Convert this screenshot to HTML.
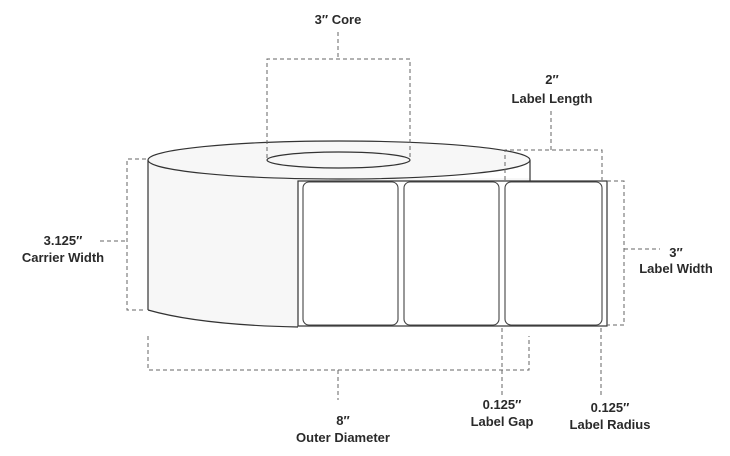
<!DOCTYPE html>
<html><head><meta charset="utf-8"><style>
html,body{margin:0;padding:0;background:#fff;}
svg{display:block;}
text{font-family:"Liberation Sans Narrow","Liberation Sans",sans-serif;font-weight:bold;font-size:13px;fill:#2a2a2a;text-anchor:middle;}
.d{stroke:#666;stroke-width:1;stroke-dasharray:4,3;fill:none;}
</style></head><body>
<svg width="730" height="456" viewBox="0 0 730 456">
<!-- roll side -->
<path d="M148,160 L148,310 C190,322 260,327 340,328 L340,160 Z" fill="#f7f7f7"/>
<path d="M148,310 C190,322 250,326 298,327" stroke="#333" stroke-width="1.2" fill="none"/>
<line x1="148" y1="160" x2="148" y2="310" stroke="#333" stroke-width="1.2"/>
<rect x="298" y="178" width="232" height="4" fill="#f7f7f7"/>
<!-- top ellipse -->
<ellipse cx="339" cy="160" rx="191" ry="19" fill="#f7f7f7" stroke="#333" stroke-width="1.2"/>
<line x1="530" y1="160" x2="530" y2="181" stroke="#333" stroke-width="1.2"/>
<ellipse cx="338.5" cy="160" rx="71.5" ry="8" fill="#f7f7f7" stroke="#333" stroke-width="1.2"/>
<!-- label strip -->
<rect x="298" y="181" width="309" height="145" fill="#fff" stroke="#333" stroke-width="1.2"/>
<rect x="303" y="182" width="95" height="143" rx="6" fill="#fff" stroke="#444" stroke-width="1.1"/>
<rect x="404" y="182" width="95" height="143" rx="6" fill="#fff" stroke="#444" stroke-width="1.1"/>
<rect x="505" y="182" width="97" height="143" rx="6" fill="#fff" stroke="#444" stroke-width="1.1"/>
<!-- core dims -->
<path class="d" d="M267,158 L267,59 L410,59 L410,158"/>
<line class="d" x1="338" y1="32" x2="338" y2="59"/>
<text x="338" y="24">3″ Core</text>
<!-- label length -->
<text x="552" y="84">2″</text>
<text x="552" y="103">Label Length</text>
<line class="d" x1="551" y1="111" x2="551" y2="150"/>
<path class="d" d="M505,180 L505,150 L602,150 L602,180"/>
<!-- label width -->
<path class="d" d="M607,181 L624,181 L624,325 L607,325"/>
<line class="d" x1="624" y1="249" x2="660" y2="249"/>
<text x="676" y="257">3″</text>
<text x="676" y="273">Label Width</text>
<!-- carrier width -->
<path class="d" d="M146,159 L127,159 L127,310 L146,310"/>
<line class="d" x1="100" y1="241" x2="127" y2="241"/>
<text x="63" y="245">3.125″</text>
<text x="63" y="262">Carrier Width</text>
<!-- outer diameter -->
<path class="d" d="M148,336 L148,370 L529,370 L529,336"/>
<line class="d" x1="338" y1="370" x2="338" y2="400"/>
<text x="343" y="425">8″</text>
<text x="343" y="442">Outer Diameter</text>
<!-- label gap -->
<line class="d" x1="502" y1="328" x2="502" y2="395"/>
<text x="502" y="409">0.125″</text>
<text x="502" y="426">Label Gap</text>
<!-- label radius -->
<line class="d" x1="601" y1="328" x2="601" y2="398"/>
<text x="610" y="412">0.125″</text>
<text x="610" y="429">Label Radius</text>
</svg>
</body></html>
